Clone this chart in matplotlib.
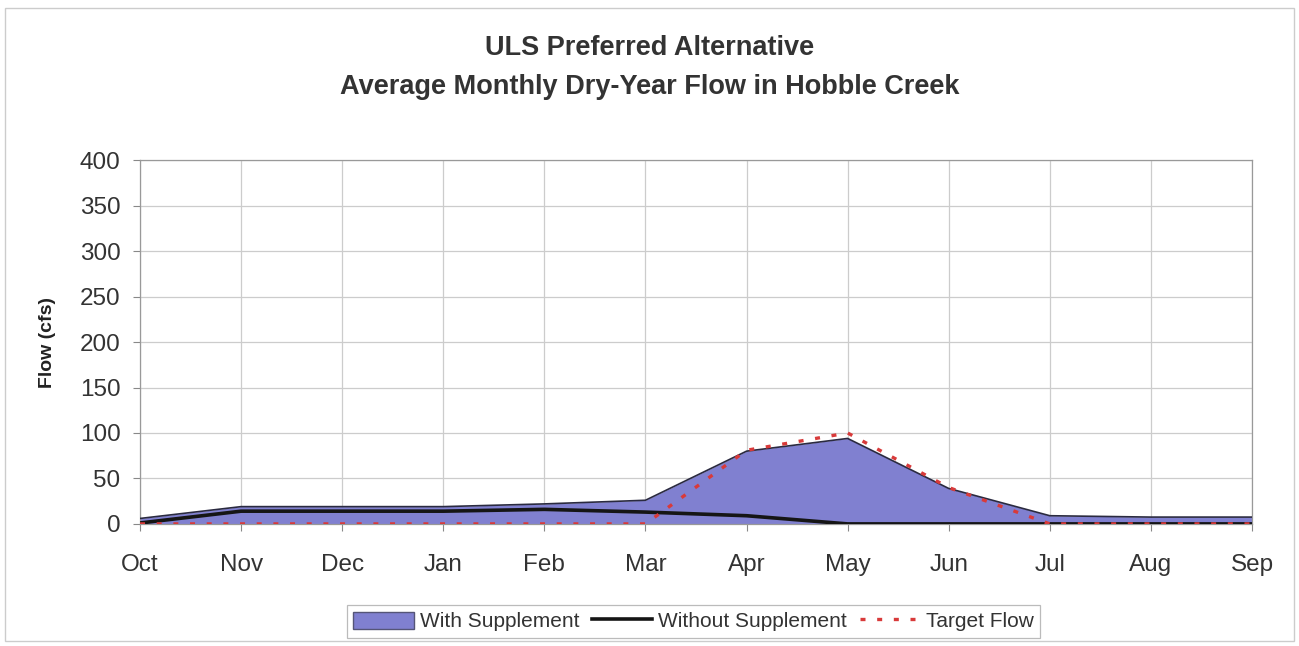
import matplotlib
matplotlib.use("Agg")
import matplotlib.pyplot as plt
from matplotlib.patches import Rectangle, Patch
from matplotlib.lines import Line2D

plt.rcParams["font.family"] = ["Liberation Sans", "DejaVu Sans"]

MONTHS = ["Oct", "Nov", "Dec", "Jan", "Feb", "Mar", "Apr", "May", "Jun", "Jul", "Aug", "Sep"]
WITH_SUPPLEMENT = [6, 19, 19, 19, 22, 26, 80, 94, 39, 9, 7.5, 7.5]
WITHOUT_SUPPLEMENT = [1, 14, 14, 14, 16, 13, 9, 0, 0, 0, 0, 0]
TARGET_FLOW = [0, 0, 0, 0, 0, 0, 81, 100, 40, 0, 0, 0]
Y_TICKS = [0, 50, 100, 150, 200, 250, 300, 350, 400]

FILL = "#8080d0"
TEXT = "#333333"
TARGET_DASH = (0, (1.5, 3.5))

fig = plt.figure(figsize=(12.99, 6.46), dpi=100)
ax = fig.add_axes([0.1078, 0.189, 0.856, 0.563])

x = list(range(len(MONTHS)))
ax.fill_between(x, 0, WITH_SUPPLEMENT, color=FILL, lw=0, zorder=2)
ax.plot(x, WITH_SUPPLEMENT, color="#2a2a40", lw=1.2, zorder=3)
ax.plot(x, WITHOUT_SUPPLEMENT, color="#151515", lw=2.6, zorder=4)
ax.plot(x, TARGET_FLOW, color="#d83a3a", lw=2.4, ls=TARGET_DASH, zorder=5)

ax.set_xlim(0, len(MONTHS) - 1)
ax.set_ylim(0, 400)
ax.set_xticks(x)
ax.set_xticklabels(MONTHS)
ax.set_yticks(Y_TICKS)
ax.tick_params(axis="both", labelsize=17.5, labelcolor=TEXT, length=5, color="#888888")
ax.tick_params(axis="x", pad=17)
ax.tick_params(axis="y", pad=9)
ax.grid(True, color="#cccccc", lw=0.9, zorder=0)
for s in ax.spines.values():
    s.set_color("#999999")
    s.set_linewidth(0.9)
ax.set_ylabel("Flow (cfs)", fontsize=14, fontweight="bold", color="#222222", labelpad=17)

fig.text(0.5, 0.925, "ULS Preferred Alternative", ha="center", va="center",
         fontsize=19.5, fontweight="bold", color=TEXT)
fig.text(0.5, 0.866, "Average Monthly Dry-Year Flow in Hobble Creek", ha="center",
         va="center", fontsize=19.5, fontweight="bold", color=TEXT)

handles = [
    Patch(facecolor=FILL, edgecolor="#555577", lw=1.0),
    Line2D([], [], color="#151515", lw=2.6),
    Line2D([], [], color="#d83a3a", lw=2.4, ls=TARGET_DASH),
]
labels = ["With Supplement", "Without Supplement", "Target Flow"]
leg = fig.legend(handles, labels, loc="center", bbox_to_anchor=(0.534, 0.038), ncol=3,
                 fontsize=15, frameon=True, fancybox=False, edgecolor="#aaaaaa",
                 handlelength=2.9, handleheight=0.9, handletextpad=0.3,
                 columnspacing=0.6, borderpad=0.3, labelcolor=TEXT)
leg.get_frame().set_linewidth(0.9)

fig.patches.append(Rectangle((0.004, 0.008), 0.992, 0.98, transform=fig.transFigure,
                             fill=False, edgecolor="#cccccc", lw=1.0))

fig.savefig("out.png", dpi=100)
